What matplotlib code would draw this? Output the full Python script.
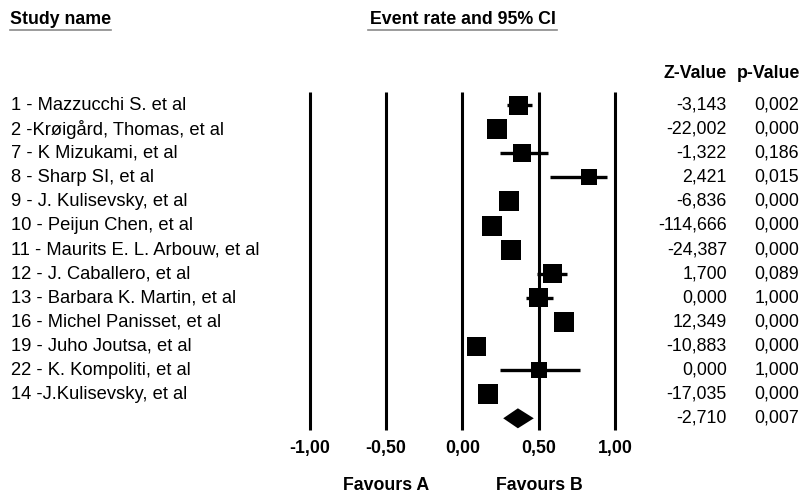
import matplotlib
matplotlib.use("Agg")
import matplotlib.pyplot as plt
from matplotlib.transforms import blended_transform_factory

plt.rcParams['font.family'] = ['Liberation Sans', 'DejaVu Sans']

# ---------------- data ----------------
studies = [
    "1 - Mazzucchi S. et al",
    "2 -Krøigård, Thomas, et al",
    "7 - K Mizukami, et al",
    "8 - Sharp SI, et al",
    "9 - J. Kulisevsky, et al",
    "10 - Peijun Chen, et al",
    "11 - Maurits E. L. Arbouw, et al",
    "12 - J. Caballero, et al",
    "13 - Barbara K. Martin, et al",
    "16 - Michel Panisset, et al",
    "19 - Juho Joutsa, et al",
    "22 - K. Kompoliti, et al",
    "14 -J.Kulisevsky, et al",
]
event_rate = [0.364, 0.227, 0.390, 0.826, 0.303, 0.194, 0.316, 0.586, 0.500, 0.665, 0.092, 0.503, 0.168]
ci_lower   = [0.288, 0.200, 0.244, 0.575, 0.280, 0.180, 0.295, 0.488, 0.418, 0.640, 0.080, 0.244, 0.150]
ci_upper   = [0.451, 0.255, 0.560, 0.946, 0.330, 0.210, 0.340, 0.684, 0.593, 0.690, 0.105, 0.765, 0.190]
weights    = [19, 20, 18, 16, 20, 20, 20, 19, 19, 20, 19, 16, 20]   # relative box size
z_values   = [-3.143, -22.002, -1.322, 2.421, -6.836, -114.666, -24.387,
              1.700, 0.000, 12.349, -10.883, 0.000, -17.035]
p_values   = [0.002, 0.000, 0.186, 0.015, 0.000, 0.000, 0.000,
              0.089, 1.000, 0.000, 0.000, 1.000, 0.000]
summary_rate = 0.362
summary_lower = 0.266
summary_upper = 0.466
summary_z = -2.710
summary_p = 0.007
x_ticks = [-1.0, -0.5, 0.0, 0.5, 1.0]
favours_labels = ["Favours A", "Favours B"]
favours_pos = [-0.5, 0.5]

def comma(v, nd):
    return f"{v:.{nd}f}".replace('.', ',')

# ---------------- layout ----------------
W, H, DPI = 804, 495, 100
fig = plt.figure(figsize=(W / DPI, H / DPI), dpi=DPI)
ax = fig.add_axes([0, 0, 1, 1])
ax.axis('off')

x0_px, unit_px = 462.5, 153.0
row0_px, row_px = 105.0, 24.1
ax.set_xlim((0 - x0_px) / unit_px, (W - x0_px) / unit_px)
ax.set_ylim((H - row0_px) / row_px, (0 - row0_px) / row_px)

def fx(px):
    return px / W

tr = blended_transform_factory(fig.transFigure, ax.transData)

n = len(studies)
rows = list(range(n))
sum_row = n

# vertical reference lines
line_top = (92 - row0_px) / row_px
line_bot = (430 - row0_px) / row_px
ax.vlines(x_ticks, line_top, line_bot, color='black', lw=2.2)

# CI lines and boxes
ax.hlines(rows, ci_lower, ci_upper, color='black', lw=2.4, zorder=3)
sizes = [(w * 72 / DPI) ** 2 for w in weights]
ax.scatter(event_rate, rows, s=sizes, marker='s', color='black', linewidths=0, zorder=4)

# summary diamond
hh = 10 / row_px
ax.fill([summary_lower, summary_rate, summary_upper, summary_rate],
        [sum_row, sum_row - hh, sum_row, sum_row + hh], color='black', lw=0, zorder=4)

fs = 12.8
# study names
for r, name in zip(rows, studies):
    ax.text(fx(11), r, name, transform=tr, ha='left', va='center', fontsize=13.2)

# z and p values
for r, z, p in zip(rows + [sum_row], z_values + [summary_z], p_values + [summary_p]):
    ax.text(fx(727), r, comma(z, 3), transform=tr, ha='right', va='center', fontsize=fs)
    ax.text(fx(799), r, comma(p, 3), transform=tr, ha='right', va='center', fontsize=fs)

# column headers
hdr_row = (73 - row0_px) / row_px
ax.text(fx(727), hdr_row, "Z-Value", transform=tr, ha='right', va='center', fontsize=fs, fontweight='bold')
ax.text(fx(800), hdr_row, "p-Value", transform=tr, ha='right', va='center', fontsize=fs, fontweight='bold')

top_row = (19 - row0_px) / row_px
ax.text(fx(10), top_row, "Study name", transform=tr, ha='left', va='center', fontsize=fs, fontweight='bold')
ax.text(0.0, top_row, "Event rate and 95% CI", ha='center', va='center', fontsize=fs, fontweight='bold')
ul_row = (29.5 - row0_px) / row_px
ax.plot([fx(10), fx(111)], [ul_row, ul_row], transform=tr, color='#8a8a8a', lw=1.2)
ax.plot([fx(368), fx(557)], [ul_row, ul_row], transform=tr, color='#8a8a8a', lw=1.2)

# tick labels
tick_row = (448 - row0_px) / row_px
for t in x_ticks:
    ax.text(t, tick_row, comma(t, 2), ha='center', va='center', fontsize=fs, fontweight='bold')

fav_row = (485 - row0_px) / row_px
for lab, pos in zip(favours_labels, favours_pos):
    ax.text(pos, fav_row, lab, ha='center', va='center', fontsize=fs, fontweight='bold')

fig.savefig("out.png", dpi=DPI, facecolor='white')
